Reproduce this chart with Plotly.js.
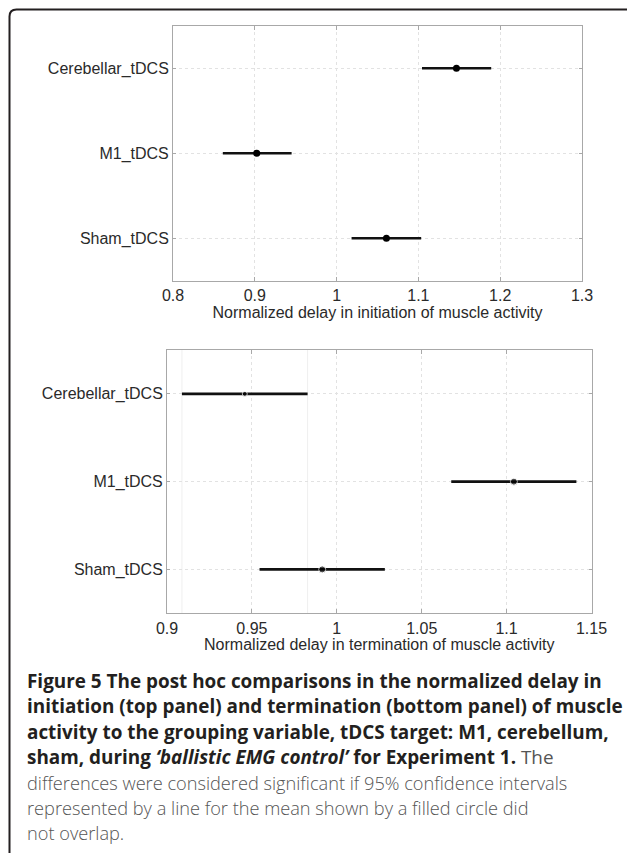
<!DOCTYPE html>
<html>
<head>
<meta charset="utf-8">
<script src="https://cdn.plot.ly/plotly-3.0.1.min.js"></script>
<style>
html,body{margin:0;padding:0;background:#fff;}
#chart{width:627px;height:853px;}
</style>
</head>
<body>
<div id="chart"></div>
<script>
// ---- data ----
var groups = ['Cerebellar_tDCS', 'M1_tDCS', 'Sham_tDCS'];
var categoryOrder = ['Sham_tDCS', 'M1_tDCS', 'Cerebellar_tDCS'];

var initMean  = [1.1465, 0.9024, 1.0609];
var initLower = [1.1044, 0.8609, 1.0183];
var initUpper = [1.1890, 0.9450, 1.1034];

var termMean  = [0.9458, 1.1043, 0.9914];
var termLower = [0.9088, 1.0674, 0.9545];
var termUpper = [0.9828, 1.1411, 1.0283];
var termMarkerSizes = [5, 7, 7];

var initTicks = [0.8, 0.9, 1.0, 1.1, 1.2, 1.3];
var termTicks = [0.9, 0.95, 1.0, 1.05, 1.1, 1.15];

var initTitle = 'Normalized delay in initiation of muscle activity';
var termTitle = 'Normalized delay in termination of muscle activity';

var captionBold = [
  'Figure 5 The post hoc comparisons in the normalized delay in',
  'initiation (top panel) and termination (bottom panel) of muscle',
  'activity to the grouping variable, tDCS target: M1, cerebellum,',
  'sham, during <i>\u2018ballistic EMG control\u2019</i> for Experiment 1.'
];
var captionTailOnBoldLine = ' The';
var captionRegular = [
  'differences were considered significant if 95% confidence intervals',
  'represented by a line for the mean shown by a filled circle did',
  'not overlap.'
];

// ---- helpers ----
function diff(a, b){ return a.map(function(v,i){ return v - b[i]; }); }
var W = 627, H = 853;
function px(x){ return x / W; }
function py(y){ return 1 - y / H; }

var traces = [
  {
    type: 'scatter', mode: 'markers', x: initMean, y: groups,
    xaxis: 'x', yaxis: 'y',
    marker: {color: '#000', size: 7},
    error_x: {type: 'data', symmetric: false,
      array: diff(initUpper, initMean), arrayminus: diff(initMean, initLower),
      color: '#111', thickness: 2.6, width: 0},
    showlegend: false, hoverinfo: 'x+y'
  },
  {
    type: 'scatter', mode: 'markers', x: termMean, y: groups,
    xaxis: 'x2', yaxis: 'y2',
    marker: {color: '#000', size: termMarkerSizes},
    error_x: {type: 'data', symmetric: false,
      array: diff(termUpper, termMean), arrayminus: diff(termMean, termLower),
      color: '#111', thickness: 2.6, width: 0},
    showlegend: false, hoverinfo: 'x+y'
  }
];

var tickFont = {family: '"Liberation Sans", Arial, sans-serif', size: 16, color: '#2a2a2a'};
function xAxis(ticks, rng, dom, anchor, title, standoff){
  return {
    domain: dom, anchor: anchor, range: rng, tickvals: ticks,
    showgrid: true, gridcolor: '#e2e2e2', griddash: 'dot', gridwidth: 1,
    zeroline: false, showline: true, linecolor: '#a8a8a8', linewidth: 1, mirror: 'ticks',
    ticks: 'inside', ticklen: 4, tickcolor: '#a8a8a8',
    tickfont: tickFont,
    title: {text: title, font: tickFont, standoff: standoff},
    automargin: false, fixedrange: true
  };
}
function yAxis(dom, anchor){
  return {
    domain: dom, anchor: anchor, type: 'category',
    categoryorder: 'array', categoryarray: categoryOrder, range: [-0.5, 2.5],
    showgrid: true, gridcolor: '#e2e2e2', griddash: 'dot', gridwidth: 1,
    zeroline: false, showline: true, linecolor: '#a8a8a8', linewidth: 1, mirror: 'ticks',
    ticks: 'inside', ticklen: 3, tickcolor: '#a8a8a8',
    tickfont: tickFont, automargin: false, fixedrange: true
  };
}

var capFamily = '"Open Sans", "Noto Sans", sans-serif';
var annotations = [];
captionBold.forEach(function(t, i){
  var txt = '<b>' + t + '</b>';
  if (i === captionBold.length - 1) {
    txt += '<span style="color:#555555">' + captionTailOnBoldLine + '</span>';
  }
  annotations.push({
    xref: 'paper', yref: 'paper', x: px(25), y: py(681 + i * 25.4),
    xanchor: 'left', yanchor: 'middle', showarrow: false, align: 'left',
    text: txt,
    font: {family: capFamily, size: 18.9, color: '#231f20'}
  });
});
captionRegular.forEach(function(t, j){
  var i = captionBold.length + j;
  annotations.push({
    xref: 'paper', yref: 'paper', x: px(25), y: py(681 + i * 25.4),
    xanchor: 'left', yanchor: 'middle', showarrow: false, align: 'left',
    text: t,
    font: {family: capFamily, size: 18.2, color: '#555555', weight: 300}
  });
});

var r = 7;
var x0 = 9.5, yTop = 9.5;
var borderPath = 'M ' + px(x0) + ',' + py(853) +
  ' L ' + px(x0) + ',' + py(yTop + r) +
  ' Q ' + px(x0) + ',' + py(yTop) + ' ' + px(x0 + r) + ',' + py(yTop) +
  ' L ' + px(627) + ',' + py(yTop);

var shapes = [
  {type: 'path', xref: 'paper', yref: 'paper', path: borderPath,
   line: {color: '#231f20', width: 2}},
  {type: 'line', xref: 'x2', yref: 'y2 domain', x0: termLower[0], x1: termLower[0], y0: 0, y1: 1,
   line: {color: '#efefef', width: 1}, layer: 'below'},
  {type: 'line', xref: 'x2', yref: 'y2 domain', x0: termUpper[0], x1: termUpper[0], y0: 0, y1: 1,
   line: {color: '#efefef', width: 1}, layer: 'below'}
];

var layout = {
  width: W, height: H,
  margin: {l: 0, r: 0, t: 0, b: 0},
  paper_bgcolor: '#fff', plot_bgcolor: '#fff',
  showlegend: false,
  xaxis: xAxis(initTicks, [0.8, 1.3], [px(173), px(582)], 'y', initTitle, 0),
  yaxis: yAxis([py(280.7), py(25.7)], 'x'),
  xaxis2: xAxis(termTicks, [0.9, 1.15], [px(167), px(591.5)], 'y2', termTitle, 0),
  yaxis2: yAxis([py(613.3), py(350)], 'x2'),
  annotations: annotations,
  shapes: shapes
};

Plotly.newPlot('chart', traces, layout, {displayModeBar: false, staticPlot: true});
</script>
</body>
</html>
